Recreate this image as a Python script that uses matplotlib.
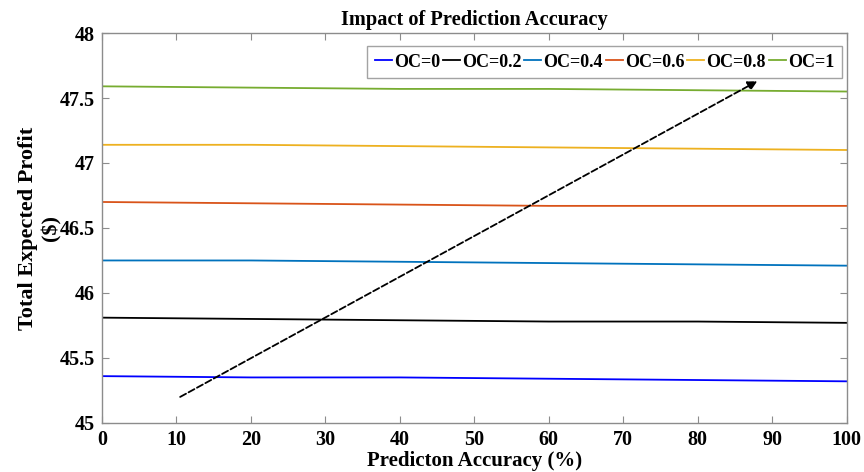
import matplotlib
matplotlib.use('Agg')
import matplotlib.pyplot as plt

# Dados
acuracia = [0, 20, 40, 60, 80, 100]
oc_labels = ['OC=0', 'OC=0.2', 'OC=0.4', 'OC=0.6', 'OC=0.8', 'OC=1']
oc_0 = [45.36, 45.35, 45.35, 45.34, 45.33, 45.32]
oc_02 = [45.81, 45.80, 45.79, 45.78, 45.78, 45.77]
oc_04 = [46.25, 46.25, 46.24, 46.23, 46.22, 46.21]
oc_06 = [46.70, 46.69, 46.68, 46.67, 46.67, 46.67]
oc_08 = [47.14, 47.14, 47.13, 47.12, 47.11, 47.10]
oc_1 = [47.59, 47.58, 47.57, 47.57, 47.56, 47.55]
cores = ['#0000FF', '#000000', '#0072BD', '#D95319', '#EDB120', '#77AC30']

# seta tracejada
seta_inicio = (10.5, 45.2)
seta_fim = (88, 47.63)

plt.rcParams['font.family'] = ['Liberation Serif', 'DejaVu Serif']
plt.rcParams['font.weight'] = 'bold'

fig = plt.figure(figsize=(8.64, 4.72), dpi=100)
ax = fig.add_axes([0.118, 0.104, 0.862, 0.826])

series = [oc_0, oc_02, oc_04, oc_06, oc_08, oc_1]
for valores, nome, cor in zip(series, oc_labels, cores):
    ax.plot(acuracia, valores, color=cor, linewidth=1.3, label=nome)

ax.annotate('', xy=seta_fim, xytext=seta_inicio,
            arrowprops=dict(arrowstyle='-|>', linestyle='--', color='black',
                            lw=1.3, mutation_scale=14, shrinkA=0, shrinkB=0))

ax.set_xlim(0, 100)
ax.set_ylim(45, 48)
ax.set_xticks(range(0, 101, 10))
ax.set_yticks([45, 45.5, 46, 46.5, 47, 47.5, 48])
ax.set_yticklabels(['45', '45.5', '46', '46.5', '47', '47.5', '48'])
ax.tick_params(direction='in', top=True, right=True, length=5, color='#8c8c8c',
               labelsize=14.5)
ax.tick_params(axis='x', pad=5)
ax.tick_params(axis='y', pad=5)
for lab in ax.get_xticklabels() + ax.get_yticklabels():
    lab.set_fontweight('bold')
for s in ax.spines.values():
    s.set_color('#8c8c8c')
    s.set_linewidth(1.0)

ax.set_title('Impact of Prediction Accuracy', fontsize=14.7, fontweight='bold', pad=6)
ax.set_xlabel('Predicton Accuracy (%)', fontsize=15, fontweight='bold', labelpad=0.5)
ax.set_ylabel('Total Expected Profit\n($)', fontsize=16, fontweight='bold',
              labelpad=-1, linespacing=1.2)

leg = ax.legend(loc='upper right', ncol=6, fontsize=13, handlelength=0.95,
                handletextpad=0.12, columnspacing=0.15, borderpad=0.4,
                borderaxespad=0.2, fancybox=False, bbox_to_anchor=(0.998, 0.975))
leg.get_frame().set_edgecolor('#8c8c8c')
leg.get_frame().set_linewidth(1.0)
for t in leg.get_texts():
    t.set_fontweight('bold')

fig.savefig('out.png', dpi=100)
